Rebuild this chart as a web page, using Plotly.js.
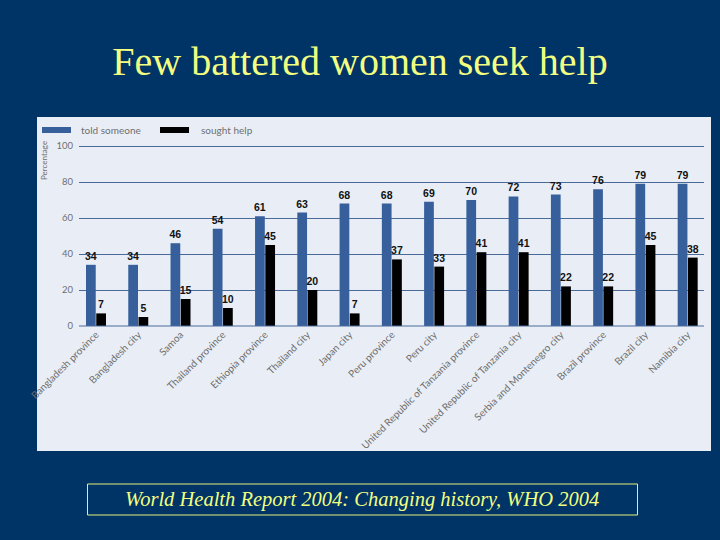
<!DOCTYPE html>
<html>
<head>
<meta charset="utf-8">
<script src="https://cdn.plot.ly/plotly-3.0.1.min.js"></script>
<style>html,body{margin:0;padding:0;background:#003366;}#chart{width:720px;height:540px;}</style>
</head>
<body>
<div id="chart"></div>
<script>
const categories = [
  "Bangladesh province", "Bangladesh city", "Samoa", "Thailand province",
  "Ethiopia province", "Thailand city", "Japan city", "Peru province",
  "Peru city", "United Republic of Tanzania province",
  "United Republic of Tanzania city", "Serbia and Montenegro city",
  "Brazil province", "Brazil city", "Namibia city"
];
const toldSomeone = [34, 34, 46, 54, 61, 63, 68, 68, 69, 70, 72, 73, 76, 79, 79];
const soughtHelp  = [7, 5, 15, 10, 45, 20, 7, 37, 33, 41, 41, 22, 22, 45, 38];
const yTicks = [0, 20, 40, 60, 80, 100];
const seriesNames = ["told someone", "sought help"];

// plot area: x 79..704, y(0)=326, y(100)=146 -> 1.8 px per unit
const PL = 79, PR = 704, PB = 326, PT = 144;
const YMAX = (PB - PT) / 1.8;
const px = v => (v - PL) / (PR - PL);
const py = v => (PB - v) / (PB - PT);

const gray = '#6f6f6f';
const blue = '#375f9c';
const grid = '#4a6a9a';
const labelFont = {family: 'Liberation Sans', size: 10.5, color: '#111', weight: 'bold'};

const traces = [
  {type: 'bar', x: categories, y: toldSomeone, name: seriesNames[0],
   marker: {color: blue}, texttemplate: '%{y}', textposition: 'outside',
   textfont: labelFont, constraintext: 'none', cliponaxis: false, hoverinfo: 'skip'},
  {type: 'bar', x: categories, y: soughtHelp, name: seriesNames[1],
   marker: {color: '#000000'}, texttemplate: '%{y}', textposition: 'outside',
   textfont: labelFont, constraintext: 'none', cliponaxis: false, hoverinfo: 'skip'}
];

const layout = {
  width: 720, height: 540,
  paper_bgcolor: '#003366',
  plot_bgcolor: 'rgba(0,0,0,0)',
  margin: {l: PL, r: 720 - PR, t: PT, b: 540 - PB, pad: 0},
  showlegend: false,
  barmode: 'group', bargap: 0.515, bargroupgap: 0.05,
  title: {text: 'Few battered women seek help', x: 0.5, xanchor: 'center',
          y: 1 - 61 / 540, yanchor: 'middle',
          font: {family: 'Liberation Serif', size: 40, color: '#f2ff80'}},
  xaxis: {type: 'category', range: [-0.402, 14.386], tickangle: -45,
          tickfont: {family: 'Lato', size: 10, color: gray},
          showgrid: false, zeroline: false, showline: false, ticks: '', fixedrange: true},
  yaxis: {range: [0, YMAX], tickvals: yTicks, ticktext: yTicks.map(String),
          tickfont: {family: 'Lato', size: 9.5, color: gray}, ticklabelstandoff: 5,
          showgrid: true, gridcolor: grid, gridwidth: 1,
          zeroline: false, showline: false, ticks: '', fixedrange: true},
  shapes: [
    {type: 'rect', xref: 'paper', yref: 'paper', layer: 'below',
     x0: px(37), x1: px(711), y0: py(451), y1: py(117),
     fillcolor: '#e9eef6', line: {width: 0}},
    {type: 'line', xref: 'paper', yref: 'paper', layer: 'above',
     x0: 0, x1: 1, y0: 0, y1: 0, line: {color: grid, width: 1.2}},
    {type: 'rect', xref: 'paper', yref: 'paper',
     x0: px(42), x1: px(71), y0: py(133), y1: py(127),
     fillcolor: blue, line: {width: 0}},
    {type: 'rect', xref: 'paper', yref: 'paper',
     x0: px(160), x1: px(189), y0: py(133), y1: py(127),
     fillcolor: '#000000', line: {width: 0}},
    {type: 'rect', xref: 'paper', yref: 'paper',
     x0: px(87.5), x1: px(637.5), y0: py(515), y1: py(484),
     fillcolor: 'rgba(0,0,0,0)', line: {color: '#e6f27a', width: 1}}
  ],
  annotations: [
    {xref: 'paper', yref: 'paper', x: px(79), y: py(130), xanchor: 'left', yanchor: 'middle',
     text: seriesNames[0], showarrow: false, font: {family: 'Lato', size: 10, color: gray}},
    {xref: 'paper', yref: 'paper', x: px(199), y: py(130), xanchor: 'left', yanchor: 'middle',
     text: seriesNames[1], showarrow: false, font: {family: 'Lato', size: 10, color: gray}},
    {xref: 'paper', yref: 'paper', x: px(44), y: py(161), xanchor: 'center', yanchor: 'middle',
     text: 'Percentage', textangle: -90, showarrow: false,
     font: {family: 'Lato', size: 8, color: gray}},
    {xref: 'paper', yref: 'paper', x: px(362), y: py(499.5), xanchor: 'center', yanchor: 'middle',
     text: '<i>World Health Report 2004: Changing history, WHO 2004</i>', showarrow: false,
     font: {family: 'Liberation Serif', size: 20.5, color: '#f2ff80'}}
  ]
};

Plotly.newPlot('chart', traces, layout, {displayModeBar: false, staticPlot: true});
</script>
</body>
</html>
